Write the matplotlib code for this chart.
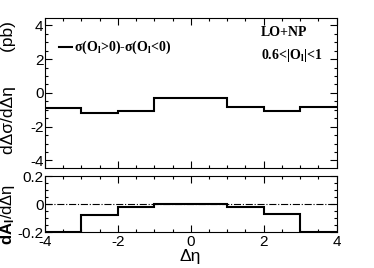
import numpy as np
import matplotlib
matplotlib.use("Agg")
import matplotlib.pyplot as plt
from matplotlib.ticker import MultipleLocator, FormatStrFormatter

# bin edges in delta eta
edges = [-4, -3, -2, -1, 1, 2, 3, 4]
# top: d(delta sigma)/d(delta eta), pb
dsig = [-0.9, -1.17, -1.05, -0.28, -0.83, -1.05, -0.83]
# bottom: dA_l/d(delta eta)
dasym = [-0.2, -0.076, -0.021, -0.002, -0.019, -0.068, -0.2]

plt.rcParams['font.family'] = ['Liberation Sans', 'DejaVu Sans']
plt.rcParams['mathtext.fontset'] = 'custom'
plt.rcParams['mathtext.rm'] = 'Liberation Sans'
plt.rcParams['mathtext.bf'] = 'Liberation Sans:bold'

W, H = 374, 268
fig = plt.figure(figsize=(W / 100, H / 100), dpi=100)

def box(l, t, r, b):
    return [l / W, 1 - b / H, (r - l) / W, (b - t) / H]

ax1 = fig.add_axes(box(45, 17.7, 336.5, 168))
ax2 = fig.add_axes(box(45, 176, 336.5, 232.3))

def step(ax, vals):
    x = np.repeat(edges, 2)[1:-1]
    y = np.repeat(vals, 2)
    ax.plot(x, y, color='black', lw=1.5, solid_joinstyle='miter')

for ax in (ax1, ax2):
    ax.set_xlim(-4, 4)
    ax.xaxis.set_major_locator(MultipleLocator(2))
    ax.xaxis.set_minor_locator(MultipleLocator(0.5))
    ax.xaxis.set_major_formatter(FormatStrFormatter('%g'))
    ax.yaxis.set_major_formatter(FormatStrFormatter('%g'))
    ax.tick_params(which='both', direction='in', top=True, right=True,
                   labelsize=11, width=0.8, pad=1)
    ax.tick_params(which='major', length=5)
    ax.tick_params(which='minor', length=2.5)
    ax.tick_params(axis='x', pad=2)
    for s in ax.spines.values():
        s.set_linewidth(0.8)

step(ax1, dsig)
ax1.set_ylim(-4.45, 4.45)
ax1.yaxis.set_major_locator(MultipleLocator(2))
ax1.yaxis.set_minor_locator(MultipleLocator(0.5))
ax1.tick_params(labelbottom=False)

# legend and labels drawn in ROOT style
fig.lines.append(plt.Line2D([59 / W, 72 / W], [1 - 47 / H, 1 - 47 / H],
                            color='black', lw=1.5, transform=fig.transFigure))
fig.text(74 / W, 1 - 47 / H, 'σ(O$_\\mathregular{l}$>0)-σ(O$_\\mathregular{l}$<0)',
         family='Liberation Serif', weight='bold', fontsize=10, va='center', ha='left')
fig.text(261 / W, 1 - 33 / H, 'LO+NP', family='Liberation Serif',
         weight='bold', fontsize=10, va='center', ha='left')
fig.text(261 / W, 1 - 55 / H, '0.6<|O$_\\mathregular{l}$|<1', family='Liberation Serif',
         weight='bold', fontsize=10, va='center', ha='left')

step(ax2, dasym)
ax2.axhline(0, color='black', lw=0.8, ls='-.')
ax2.set_ylim(-0.2, 0.2)
ax2.yaxis.set_major_locator(MultipleLocator(0.2))
ax2.yaxis.set_minor_locator(MultipleLocator(0.05))

fig.text(190 / W, 1 - 257 / H, 'Δη', fontsize=12.5, ha='center', va='center')
fig.text(9 / W, 1 - 88 / H, 'dΔσ/dΔη       (pb)', fontsize=12.5, rotation=90,
         ha='center', va='center')
fig.text(8 / W, 1 - 214 / H, r'$\mathbf{dA_{l}}$/dΔη', fontsize=12, rotation=90,
         ha='center', va='center')

fig.savefig('out.png', dpi=100)
